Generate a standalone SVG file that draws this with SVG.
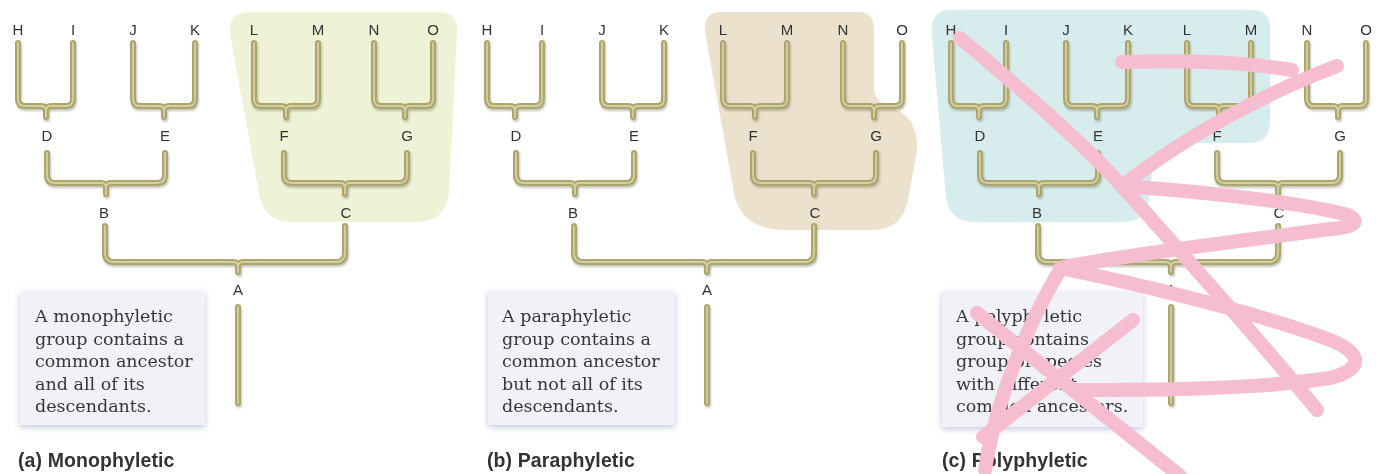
<svg xmlns="http://www.w3.org/2000/svg" xmlns:xlink="http://www.w3.org/1999/xlink" width="1384" height="474" viewBox="0 0 1384 474">
<style>
.lbl{font-family:"Liberation Sans",Arial,sans-serif;font-size:15px;fill:#333333;text-anchor:middle}
.desc{font-family:"DejaVu Serif","Liberation Serif",serif;font-size:17.5px;fill:#363636}
.cap{font-family:"Liberation Sans",Arial,sans-serif;font-size:19.5px;font-weight:bold;fill:#333333;letter-spacing:0.1px}
.box{fill:#f0f2f8}
.tube{fill:none;stroke:#aca66e;stroke-width:6;stroke-linecap:round;stroke-linejoin:round}
.tubehi{fill:none;stroke:#d4d0a2;stroke-width:1.8;stroke-linecap:round;stroke-linejoin:round}
.pink{fill:none;stroke:#f6bdd1;stroke-width:14;stroke-linecap:round;stroke-linejoin:round}
</style>
<defs>
<filter id="sh" x="-10%" y="-10%" width="130%" height="130%">
<feDropShadow dx="1" dy="2" stdDeviation="1.3" flood-color="#7a7a6a" flood-opacity="0.45"/>
</filter>
<filter id="boxsh" x="-10%" y="-10%" width="120%" height="125%">
<feDropShadow dx="0" dy="2" stdDeviation="3" flood-color="#8e96c0" flood-opacity="0.55"/>
</filter>
<g id="tree">
<path d="M18,43 V99 Q18,106 25,106 H41 Q46,106 46,111 V117 M73,43 V99 Q73,106 66,106 H51 Q46,106 46,111"/>
<path d="M133,43 V99 Q133,106 140,106 H159 Q164,106 164,111 V117 M195,43 V99 Q195,106 188,106 H169 Q164,106 164,111"/>
<path d="M254,43 V99 Q254,106 261,106 H281 Q286,106 286,111 V117 M318,43 V99 Q318,106 311,106 H291 Q286,106 286,111"/>
<path d="M374,43 V99 Q374,106 381,106 H400 Q405,106 405,111 V117 M433,43 V99 Q433,106 426,106 H410 Q405,106 405,111"/>
<path d="M47,153 V175 Q47,183 55,183 H101 Q106,183 106,188 V194 M165,153 V175 Q165,183 157,183 H111 Q106,183 106,188"/>
<path d="M284,153 V175 Q284,183 292,183 H340 Q345,183 345,188 V194 M407,153 V175 Q407,183 399,183 H350 Q345,183 345,188"/>
<path d="M105,226 V253 Q105,262 114,262 H233 Q238,262 238,267 V272 M345,226 V253 Q345,262 336,262 H243 Q238,262 238,267"/>
<path d="M238,307 V403"/>
</g>
</defs>
<rect width="1384" height="474" fill="#ffffff"/>
<g id="groups">
<path id="group-mono" d="M250,12 L438,12 Q458,12 457,32 L449,192 Q446,222 416,222 L292,222 Q266,222 260,198 L230,34 Q228,12 250,12 Z" fill="#eef2d6"/>
<path id="group-para" d="M722,12 L858,12 Q874,12 874,30 L874,88 Q874,102 892,108 Q918,116 917,150 L908,200 Q902,230 872,230 L785,230 Q745,230 735,198 L705,32 Q703,12 722,12 Z" fill="#ebe1cc"/>
<path id="group-poly" d="M950,10 L1252,10 Q1270,10 1270,28 L1270,122 Q1270,143 1248,143 L1180,143 Q1158,143 1153,162 L1149,200 Q1146,222 1122,222 L975,222 Q950,222 946,198 L932,35 Q930,10 950,10 Z" fill="#d7ecec"/>
</g>
<g id="connectors">
<g class="tube" filter="url(#sh)">
<use xlink:href="#tree"/>
<use xlink:href="#tree" x="469"/>
<use xlink:href="#tree" x="933"/>
</g>
<g class="tubehi">
<use xlink:href="#tree"/>
<use xlink:href="#tree" x="469"/>
<use xlink:href="#tree" x="933"/>
</g>
</g>
<g id="panel-a">
<g id="a-H"><text class="lbl" x="18" y="35">H</text></g>
<g id="a-I"><text class="lbl" x="73" y="35">I</text></g>
<g id="a-J"><text class="lbl" x="133" y="35">J</text></g>
<g id="a-K"><text class="lbl" x="195" y="35">K</text></g>
<g id="a-L"><text class="lbl" x="254" y="35">L</text></g>
<g id="a-M"><text class="lbl" x="318" y="35">M</text></g>
<g id="a-N"><text class="lbl" x="374" y="35">N</text></g>
<g id="a-O"><text class="lbl" x="433" y="35">O</text></g>
<g id="a-D"><text class="lbl" x="47" y="141">D</text></g>
<g id="a-E"><text class="lbl" x="165" y="141">E</text></g>
<g id="a-F"><text class="lbl" x="284" y="141">F</text></g>
<g id="a-G"><text class="lbl" x="407" y="141">G</text></g>
<g id="a-B"><text class="lbl" x="104" y="218">B</text></g>
<g id="a-C"><text class="lbl" x="346" y="218">C</text></g>
<g id="a-A"><text class="lbl" x="238" y="295">A</text></g>
<g id="a-note"><rect class="box" x="20" y="292" width="185" height="133" filter="url(#boxsh)"/>
<text class="desc" x="35" y="322">A monophyletic</text>
<text class="desc" x="35" y="344.5">group contains a</text>
<text class="desc" x="35" y="367">common ancestor</text>
<text class="desc" x="35" y="389.5">and all of its</text>
<text class="desc" x="35" y="412">descendants.</text></g>
<g id="a-caption"><text class="cap" x="18" y="467">(a) Monophyletic</text></g>
</g>
<g id="panel-b">
<g id="b-H"><text class="lbl" x="487" y="35">H</text></g>
<g id="b-I"><text class="lbl" x="542" y="35">I</text></g>
<g id="b-J"><text class="lbl" x="602" y="35">J</text></g>
<g id="b-K"><text class="lbl" x="664" y="35">K</text></g>
<g id="b-L"><text class="lbl" x="723" y="35">L</text></g>
<g id="b-M"><text class="lbl" x="787" y="35">M</text></g>
<g id="b-N"><text class="lbl" x="843" y="35">N</text></g>
<g id="b-O"><text class="lbl" x="902" y="35">O</text></g>
<g id="b-D"><text class="lbl" x="516" y="141">D</text></g>
<g id="b-E"><text class="lbl" x="634" y="141">E</text></g>
<g id="b-F"><text class="lbl" x="753" y="141">F</text></g>
<g id="b-G"><text class="lbl" x="876" y="141">G</text></g>
<g id="b-B"><text class="lbl" x="573" y="218">B</text></g>
<g id="b-C"><text class="lbl" x="815" y="218">C</text></g>
<g id="b-A"><text class="lbl" x="707" y="295">A</text></g>
<g id="b-note"><rect class="box" x="488" y="292" width="187" height="133" filter="url(#boxsh)"/>
<text class="desc" x="502" y="322">A paraphyletic</text>
<text class="desc" x="502" y="344.5">group contains a</text>
<text class="desc" x="502" y="367">common ancestor</text>
<text class="desc" x="502" y="389.5">but not all of its</text>
<text class="desc" x="502" y="412">descendants.</text></g>
<g id="b-caption"><text class="cap" x="487" y="467">(b) Paraphyletic</text></g>
</g>
<g id="panel-c">
<g id="c-H"><text class="lbl" x="951" y="35">H</text></g>
<g id="c-I"><text class="lbl" x="1006" y="35">I</text></g>
<g id="c-J"><text class="lbl" x="1066" y="35">J</text></g>
<g id="c-K"><text class="lbl" x="1128" y="35">K</text></g>
<g id="c-L"><text class="lbl" x="1187" y="35">L</text></g>
<g id="c-M"><text class="lbl" x="1251" y="35">M</text></g>
<g id="c-N"><text class="lbl" x="1307" y="35">N</text></g>
<g id="c-O"><text class="lbl" x="1366" y="35">O</text></g>
<g id="c-D"><text class="lbl" x="980" y="141">D</text></g>
<g id="c-E"><text class="lbl" x="1098" y="141">E</text></g>
<g id="c-F"><text class="lbl" x="1217" y="141">F</text></g>
<g id="c-G"><text class="lbl" x="1340" y="141">G</text></g>
<g id="c-B"><text class="lbl" x="1037" y="218">B</text></g>
<g id="c-C"><text class="lbl" x="1279" y="218">C</text></g>
<g id="c-A"><text class="lbl" x="1171" y="295">A</text></g>
<g id="c-note"><rect class="box" x="942" y="292" width="201" height="135" filter="url(#boxsh)"/>
<text class="desc" x="956" y="322">A polyphyletic</text>
<text class="desc" x="956" y="344.5">group contains</text>
<text class="desc" x="956" y="367">group of species</text>
<text class="desc" x="956" y="389.5">with different</text>
<text class="desc" x="956" y="412">common ancestors.</text></g>
<g id="c-caption"><text class="cap" x="942" y="467">(c) Polyphyletic</text></g>
</g>
<g id="scribble" class="pink">
<path d="M960,38 C1040,105 1090,150 1130,195 S1260,340 1317,410"/>
<path d="M1122,62 C1190,60 1250,63 1292,70"/>
<path d="M1337,66 C1260,95 1180,140 1122,186 C1180,190 1290,200 1348,215 C1362,222 1352,228 1330,229 C1250,240 1120,255 1060,268 C1120,280 1250,310 1330,340 C1365,354 1362,370 1330,378 C1250,390 1150,390 1073,390"/>
<path d="M977,313 L1180,476"/>
<path d="M1133,320 L983,437"/>
<path d="M1060,270 C1030,320 995,400 985,470"/>
</g>
</svg>
